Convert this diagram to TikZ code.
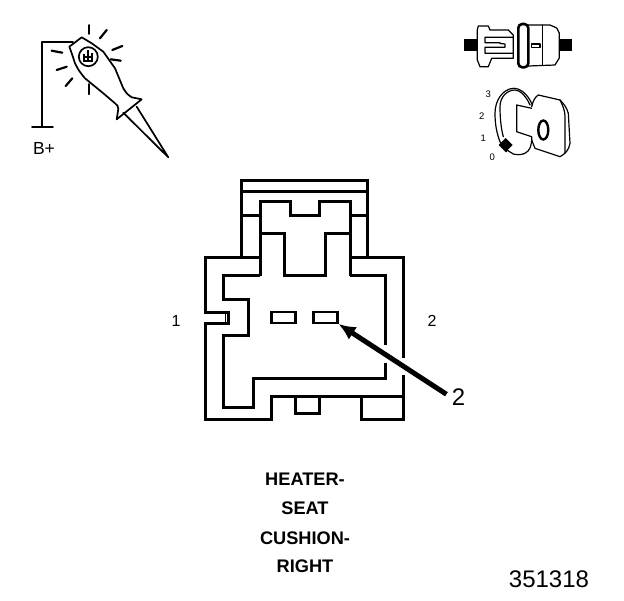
\documentclass[tikz,border=0pt]{standalone}
\usepackage{fontspec}
\setmainfont{Liberation Sans}
\usepackage{tikz}
\usetikzlibrary{arrows.meta}
\tikzset{ wall_line/.style = {line width=3pt, miter limit=10} }
\tikzset{ thin_line/.style = {line width=1.7pt, line join=round, line cap=round} }
\tikzset{ fine_line/.style = {line width=1.2pt, line join=round, line cap=round} }
\tikzset{ ray_line/.style = {line width=2.2pt, line cap=round} }
\tikzset{ pin_box/.style = {rectangle, draw, line width=2.4pt, minimum width=24pt, minimum height=10.5pt, inner sep=0pt} }
\tikzset{ side_label/.style = {inner sep=0pt, font=\fontsize{16}{16}\selectfont} }
\tikzset{ name_label/.style = {inner sep=0pt, font=\fontsize{18.2}{18}\selectfont\bfseries} }
\tikzset{ dial_label/.style = {inner sep=0pt, font=\fontsize{9.5}{10}\selectfont} }
\tikzset{ big_label/.style = {inner sep=1pt, font=\fontsize{24}{24}\selectfont} }
\begin{document}
\begin{tikzpicture}[x=1pt,y=-1pt]
\useasboundingbox (0,0) rectangle (624,600);
\draw[wall_line] (241.7,257.7) -- (241.7,180) -- (367,180) -- (367,257.7);
\draw[wall_line] (241.7,191.7) -- (367,191.7);
\draw[wall_line] (241.7,215.7) -- (260,215.7);
\draw[wall_line] (350,215.7) -- (367,215.7);
\draw[wall_line] (260,275.7) -- (260,201.7) -- (290,201.7) -- (290,215.7) -- (319,215.7) -- (319,201.7) -- (350,201.7) -- (350,275.7);
\draw[wall_line] (260,233) -- (284,233) -- (284,275.7) -- (325,275.7) -- (325,233) -- (350,233);
\draw[wall_line] (260,257.7) -- (205,257.7) -- (205,312.7) -- (228,312.7) -- (228,323) -- (205,323) -- (205,419.3) -- (271.7,419.3) -- (271.7,396) -- (403,396);
\draw[wall_line] (350,257.7) -- (403,257.7) -- (403,358);
\draw[wall_line] (403,375) -- (403,419.3) -- (361.7,419.3) -- (361.7,396);
\draw[wall_line] (295,396) -- (295,413) -- (319,413) -- (319,396);
\draw[line width=1pt] (225,313) -- (225,323);
\draw[wall_line] (260,275.7) -- (223,275.7) -- (223,299.3) -- (248,299.3) -- (248,335) -- (223,335) -- (223,407) -- (253,407) -- (253,378) -- (385.7,378) -- (385.7,363);
\draw[wall_line] (385.7,345) -- (385.7,275.7) -- (350,275.7);
\node[pin_box] (pin_1) at (283.5,317.5) {};
\node[pin_box] (pin_2) at (325.3,317.5) {};
\node[big_label] (callout_2) at (458.5,397) {2};
\draw[line width=5pt, shorten <=5pt, -{Latex[length=17pt,width=15pt]}] (callout_2.west) -- (pin_2.south east);
\node[side_label] (cavity_1) at (176,321) {1};
\node[side_label] (cavity_2) at (432,321) {2};
\node[name_label] (name_1) at (305,479.5) {HEATER-};
\node[name_label] (name_2) at (305,508.5) {SEAT};
\node[name_label] (name_3) at (305,538) {CUSHION-};
\node[name_label] (name_4) at (305,566.5) {RIGHT};
\node[inner sep=0pt, font=\fontsize{24}{24}\selectfont] (part_no) at (549,579) {351318};
\node[inner sep=0pt, font=\fontsize{17.5}{18}\selectfont] (bplus) at (44,148) {B+};
\draw[thin_line] (32,127) -- (53,127);
\draw[thin_line] (41.7,127) -- (41.7,41.7) -- (73,41.7);
\draw[thin_line, fill=white] (81.7,37.3) -- (69.3,46.7) .. controls (72,54) .. (75,63.3) .. controls (79,71) .. (85,78.3) -- (103.3,93.3) -- (115,103.3) .. controls (118,106) .. (118.3,109) -- (116.7,119.3) -- (141.7,99.3) -- (131.7,97.3) .. controls (127,94) .. (123.3,88.3) .. controls (120,78) .. (115,68.3) .. controls (110,60) .. (103.3,51.7) .. controls (98,47) .. (91.7,43.3) -- cycle;
\draw[thin_line] (123.3,112.7) -- (168.3,157.3) -- (136.7,106.7);
\draw[thin_line] (88.3,56.7) circle (9.5pt);
\draw[line width=1.2pt] (88,50) -- (88,61) (83,61) -- (93,61) (85,57) -- (91,57) (92,53) -- (92,60) (84,54) -- (84,60);
\draw[thin_line] (89,25) -- (89,34);
\draw[ray_line] (106.7,30) -- (100,38.3);
\draw[ray_line] (122.3,46) -- (112.3,50);
\draw[ray_line] (120.7,60.7) -- (110.7,59.3);
\draw[ray_line] (51.7,50.7) -- (62.3,52.7);
\draw[ray_line] (56.7,70) -- (66.7,66.7);
\draw[ray_line] (65.7,86) -- (72.3,78.3);
\draw[thin_line] (89,84) -- (89,94.3);
\fill (464,39.3) rectangle (477.3,50.7);
\fill (559,39.3) rectangle (571.7,50.7);
\draw[fine_line] (477.3,30) -- (478.3,26) -- (488.3,26) -- (490,30) -- (508.3,30) -- (513.3,35) -- (513.3,58.3) -- (491.7,58.3) -- (488.3,66.7) -- (480,66.7) -- (477.3,60) -- cycle;
\draw[fine_line] (513.3,37.3) -- (485,37.3) -- (485,42.7) -- (500,42.7) -- (500,43.5) -- (505,44) -- (505,47.3) -- (485,47.3) -- (485,53.3) -- (513.3,53.3);
\draw[line width=2.6pt, rounded corners=4pt] (518.3,24) rectangle (528.3,67.3);
\draw[fine_line] (528.3,25) -- (550,25) -- (556.7,28) -- (559.3,33) -- (559.3,58) -- (555,65) -- (528.3,66);
\draw[fine_line] (542.3,25) -- (542.3,65);
\draw[fine_line] (531.7,44) rectangle (540,47.3);
\node[dial_label] (dial_3) at (488.3,94.3) {3};
\node[dial_label] (dial_2) at (481.7,116) {2};
\node[dial_label] (dial_1) at (483.3,138.3) {1};
\node[dial_label] (dial_0) at (492.3,157.3) {0};
\draw[fine_line] (532.3,105) .. controls (528,94) and (520,88) .. (513.3,88.3) .. controls (503,89) and (495,100) .. (495,113.3) .. controls (495,125) and (497,134) .. (500,141.7) -- (506.7,151.7);
\draw[fine_line] (530,105) .. controls (526,96) and (520,90) .. (515,90) .. controls (507,90) and (500,97) .. (500,106.7) .. controls (500,118) and (501,128) .. (503.3,136.7);
\draw[fine_line] (531.7,108.3) -- (516.7,105) -- (516.7,131.7) -- (531.7,136.7) .. controls (532,145) and (530,151) .. (525,153.3) .. controls (521,155) and (517,155) .. (513.3,154) -- (501.7,146.7);
\draw[fine_line] (531.7,106.7) .. controls (533,101) and (535,97) .. (538.3,95) -- (560,100) .. controls (564,104) and (567,108) .. (568.3,113.3) -- (570,143.3) .. controls (569,150) and (565,154) .. (560,156.7) -- (535,148.3) -- (531.7,140);
\draw[fine_line] (560,100) .. controls (563,106) and (565,111) .. (565,116.7) -- (565,153.3);
\draw[line width=2.4pt] (543.3,130) ellipse (5pt and 9.5pt);
\fill (505.7,138) -- (512.7,145) -- (505.7,152) -- (498.7,145) -- cycle;
\end{tikzpicture}
\end{document}
